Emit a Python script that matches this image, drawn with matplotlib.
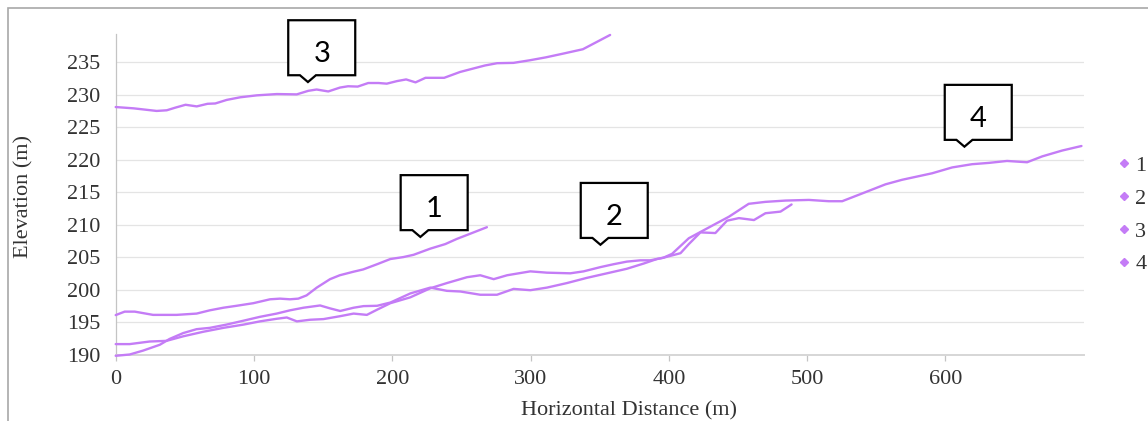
import numpy as np
import matplotlib
matplotlib.use('Agg')
import matplotlib.pyplot as plt
from matplotlib.lines import Line2D
from matplotlib.patches import Polygon, Rectangle
import matplotlib.transforms as mtransforms

plt.rcParams['font.family'] = ['Liberation Serif', 'DejaVu Serif']

# ---------------- data ----------------
series_names = ['1', '2', '3', '4']

x1 = [0, 6.5, 13.8, 27, 44, 58.5, 68, 77.8, 87.4, 99.5, 111.6, 118.8, 126, 132, 138,
      145.4, 155, 162, 172, 179, 189, 198.6, 208, 215.4, 227.5, 238.3, 246.7, 256.4, 268.4]
y1 = [196.07, 196.6, 196.6, 196.1, 196.1, 196.3, 196.8, 197.2, 197.5, 197.9, 198.5, 198.6, 198.5, 198.6, 199.1,
      200.3, 201.6, 202.2, 202.75, 203.1, 203.9, 204.7, 205.0, 205.35, 206.3, 207.0, 207.8, 208.6, 209.6]

x2 = [0, 10.1, 24.6, 36.7, 48.8, 63.3, 77.8, 92.3, 104.3, 116.4, 123.7, 131, 140.6, 150.2, 162.3,
      172, 181.6, 189, 198.6, 213, 227.5, 239.5, 254, 263.6, 273.3, 283, 299.8, 311.8, 328.7,
      338.3, 350.4, 360, 369.6, 379.3, 386.5, 396, 408.4, 414.4, 422.8, 433.6, 442, 450.6,
      461.5, 469.8, 480.7, 488.7]
y2 = [191.6, 191.6, 192.0, 192.1, 192.8, 193.5, 194.1, 194.6, 195.1, 195.5, 195.7, 195.1, 195.35, 195.45, 195.9,
      196.3, 196.1, 196.9, 197.9, 198.8, 200.2, 201.0, 201.9, 202.2, 201.6, 202.2, 202.8, 202.6, 202.5,
      202.8, 203.45, 203.9, 204.3, 204.5, 204.5, 204.9, 205.6, 207.0, 208.8, 208.7, 210.6, 211.0,
      210.7, 211.75, 212.0, 213.1]

x3 = [0, 13, 29.6, 36.9, 43, 50.5, 58.6, 66.4, 72, 80.3, 90, 102, 116.5, 130.9, 139.3, 145.3, 153.7,
      162.2, 168, 175, 182.6, 190, 196, 203.5, 210, 216.8, 224, 237.5, 249, 267, 275.8, 287.6,
      299.4, 311, 323, 337.8, 357.5]
y3 = [228.1, 227.9, 227.5, 227.6, 228.0, 228.45, 228.2, 228.6, 228.65, 229.2, 229.6, 229.9, 230.1, 230.05,
      230.6, 230.8, 230.5, 231.1, 231.3, 231.25, 231.8, 231.8, 231.7, 232.1, 232.35, 231.9, 232.6, 232.6,
      233.5, 234.5, 234.85, 234.9, 235.3, 235.75, 236.3, 237.0, 239.2]

x4 = [0, 10.1, 19.8, 31.9, 39, 48.8, 58.5, 68, 80, 92.3, 104.3, 116.4, 126, 135.7, 147.8, 155, 162.3,
      172, 179.2, 189, 198.6, 213, 227.5, 239.5, 249.2, 263.6, 275.7, 287.7, 299.8, 311.8, 326.3,
      340.7, 355.2, 369.6, 381.7, 391.3, 396, 402.3, 414.4, 424, 433.6, 443.3, 457.7, 469.8, 484.3,
      501.2, 515.6, 525.3, 542.2, 556.6, 568.6, 590.3, 604.8, 619.2, 631.3, 644.5, 659, 669.9,
      684.3, 698.3]
y4 = [189.8, 190.0, 190.6, 191.5, 192.4, 193.3, 193.9, 194.1, 194.6, 195.2, 195.8, 196.3, 196.8, 197.2,
      197.55, 197.1, 196.7, 197.2, 197.45, 197.5, 198.0, 199.4, 200.3, 199.8, 199.7, 199.2, 199.2, 200.1,
      199.9, 200.3, 201.0, 201.8, 202.5, 203.2, 204.0, 204.7, 204.9, 205.5, 207.9, 209.0, 210.1, 211.2,
      213.2, 213.5, 213.7, 213.8, 213.6, 213.6, 215.0, 216.2, 216.9, 217.9, 218.8, 219.3, 219.5, 219.8,
      219.6, 220.5, 221.4, 222.1]

x_ticks = [0, 100, 200, 300, 400, 500, 600]
y_ticks = [190, 195, 200, 205, 210, 215, 220, 225, 230, 235]

callout_labels = ['3', '1', '2', '4']
callout_x = [139, 220.3, 350.5, 613.7]
callout_y = [231.95, 208.1, 206.9, 222.0]

x_label = 'Horizontal Distance (m)'
y_label = 'Elevation (m)'

# ---------------- figure ----------------
W, H = 1148, 421
fig = plt.figure(figsize=(W / 100, H / 100), dpi=100)
fig.patch.set_facecolor('white')

# outer chart frame
fig.patches.append(Rectangle((7.5 / W, -0.2), 1.2, 1.2 - 8 / H + 0.0,
                             transform=fig.transFigure, fill=False,
                             edgecolor='#A8A8A8', lw=1.2))

ax_l, ax_r, ax_b, ax_t = 115.7, 1083.8, 354.5, 34.3
ax = fig.add_axes([ax_l / W, 1 - ax_b / H, (ax_r - ax_l) / W, (ax_b - ax_t) / H])

line_color = '#C47CF6'
xs = [x1, x2, x3, x4]
ys = [y1, y2, y3, y4]
for xx, yy, nm in zip(xs, ys, series_names):
    ax.plot(xx, yy, color=line_color, lw=1.7, solid_joinstyle='round',
            solid_capstyle='round', label=nm, zorder=3, clip_on=False)

ax.set_xlim(0, 700)
ax.set_ylim(190, 239.3)
ax.set_xticks(x_ticks)
ax.set_yticks(y_ticks)
ax.yaxis.grid(True, color='#E4E4E4', lw=0.9, zorder=0)
ax.set_axisbelow(True)

for s in ['top', 'right']:
    ax.spines[s].set_visible(False)
ax.spines['left'].set_color('#C4C4C4')
ax.spines['left'].set_linewidth(0.9)
ax.spines['bottom'].set_color('#D6D6D6')
ax.spines['bottom'].set_linewidth(1.4)

ax.tick_params(axis='x', length=4, width=0.9, color='#C4C4C4', pad=7,
               labelsize=16, labelcolor='#333333')
ax.tick_params(axis='y', length=0, pad=11, labelsize=16, labelcolor='#333333')

ax.set_xlabel(x_label, fontsize=16, color='#333333')
ax.xaxis.set_label_coords(0.53, -0.145)
ax.set_ylabel(y_label, fontsize=16, color='#333333')
ax.yaxis.set_label_coords(-0.0854, 0.493)

# callouts
box_w, box_h, notch_d, tip_off, notch_hw = 67, 55, 6.8, 19.7, 8
for lbl, cx, cy in zip(callout_labels, callout_x, callout_y):
    trans = fig.dpi_scale_trans + mtransforms.ScaledTranslation(cx, cy, ax.transData)
    left = -tip_off
    right = left + box_w
    bot = notch_d
    top = bot + box_h
    verts = np.array([(0, 0), (notch_hw, bot), (right, bot), (right, top),
                      (left, top), (left, bot), (-notch_hw, bot)]) / 100.0
    poly = Polygon(verts, closed=True, transform=trans, facecolor='white',
                   edgecolor='black', lw=1.6, zorder=6, clip_on=False,
                   joinstyle='miter')
    ax.add_patch(poly)
    ax.text((left + box_w / 2) / 100.0, (bot + 13) / 100.0, lbl, transform=trans,
            ha='center', va='baseline', fontsize=21, family=['Lato', 'DejaVu Sans'],
            color='black', zorder=7, clip_on=False)

# legend
handles = [Line2D([], [], color=line_color, marker='D', markersize=4, linestyle='None')
           for _ in series_names]
fig.legend(handles, series_names, loc='center left',
           bbox_to_anchor=(1118.5 / W, 1 - 215 / H), frameon=False,
           handlelength=0.5, handletextpad=0.25, borderpad=0, borderaxespad=0,
           labelspacing=0.55, fontsize=16, labelcolor='#333333')

fig.savefig('out.png', dpi=100, facecolor='white')
